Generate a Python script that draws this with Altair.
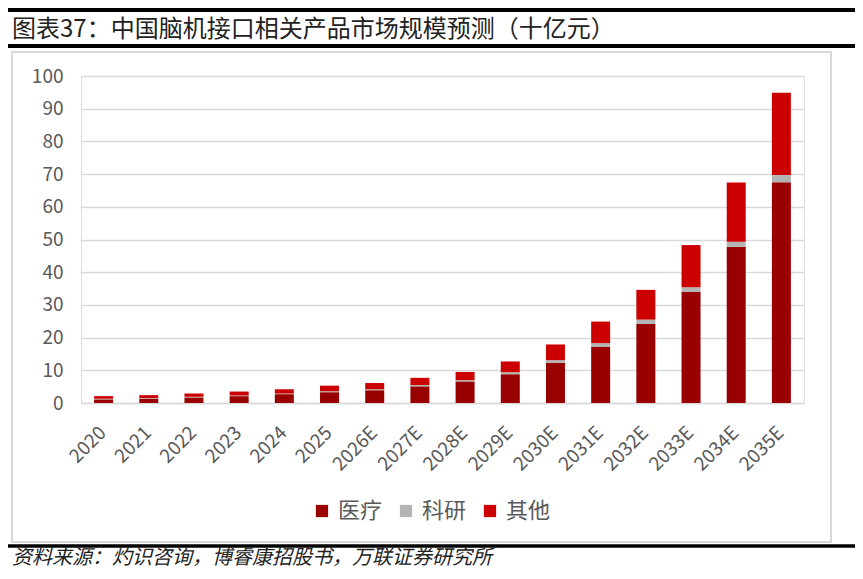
import altair as alt
import pandas as pd

years = ["2020", "2021", "2022", "2023", "2024", "2025", "2026E", "2027E",
         "2028E", "2029E", "2030E", "2031E", "2032E", "2033E", "2034E", "2035E"]
medical = [1.1, 1.3, 1.7, 2.1, 2.7, 3.3, 3.9, 5.1, 6.6, 8.8, 12.3, 17.2, 24.2, 34.0, 47.8, 67.5]
research = [0.2, 0.2, 0.2, 0.2, 0.2, 0.3, 0.3, 0.4, 0.4, 0.6, 0.8, 1.1, 1.3, 1.4, 1.5, 2.2]
other = [0.8, 0.9, 1.0, 1.2, 1.3, 1.7, 1.9, 2.2, 2.5, 3.3, 4.8, 6.6, 9.1, 12.9, 18.1, 25.2]
series = ["医疗", "科研", "其他"]
colors = ["#990000", "#B4B4B4", "#CC0000"]
title_text = "图表37：中国脑机接口相关产品市场规模预测（十亿元）"
source_text = "资料来源：灼识咨询，博睿康招股书，万联证券研究所"

rows = []
for i, y in enumerate(years):
    for k, (name, vals) in enumerate(zip(series, [medical, research, other])):
        rows.append({"year": y, "series": name, "value": vals[i], "order": k})
df = pd.DataFrame(rows)

FONT = "Noto Sans CJK SC"
one = pd.DataFrame({"a": [0]})

bars = alt.Chart(df).mark_bar(size=19).encode(
    x=alt.X("year:N", sort=years, title=None,
            scale=alt.Scale(paddingInner=0.58, paddingOuter=0.29),
            axis=alt.Axis(labelAngle=-45, labelFontSize=19, labelColor="#595959",
                          labelFont=FONT, ticks=False, domainColor="#D9D9D9",
                          domainWidth=1.5, labelPadding=20, labelOffset=-7, grid=False)),
    y=alt.Y("value:Q", title=None, stack="zero",
            scale=alt.Scale(domain=[0, 100], nice=False),
            axis=alt.Axis(values=list(range(0, 101, 10)), labelFontSize=19,
                          labelColor="#595959", labelFont=FONT, ticks=False,
                          domain=False, gridColor="#D9D9D9", gridWidth=1.5,
                          labelPadding=18)),
    color=alt.Color("series:N", sort=series,
                    scale=alt.Scale(domain=series, range=colors),
                    legend=alt.Legend(title=None, orient="none", direction="horizontal",
                                      legendX=230, legendY=424, symbolType="square",
                                      symbolSize=150, symbolStrokeWidth=0,
                                      labelFontSize=22, labelColor="#595959",
                                      labelFont=FONT, columnPadding=12, labelOffset=5,
                                      padding=0)),
    order=alt.Order("order:Q"),
)

box = alt.Chart(one).mark_rect(fill="transparent", stroke="#D9D9D9", strokeWidth=2).encode(
    x=alt.value(-69), x2=alt.value(750), y=alt.value(-24), y2=alt.value(466))

line_top = alt.Chart(one).mark_rule(color="black", strokeWidth=4).encode(
    x=alt.value(-73), x2=alt.value(774), y=alt.value(-66))
line_mid = alt.Chart(one).mark_rule(color="black", strokeWidth=4).encode(
    x=alt.value(-73), x2=alt.value(774), y=alt.value(-30))
line_bot = alt.Chart(one).mark_rule(color="black", strokeWidth=3.5).encode(
    x=alt.value(-73), x2=alt.value(774), y=alt.value(470))

title = alt.Chart(one).mark_text(text=title_text, align="left", baseline="alphabetic",
                                 fontSize=24, font=FONT, color="#222222").encode(
    x=alt.value(-69), y=alt.value(-39))
source = alt.Chart(one).mark_text(text=source_text, align="left", baseline="alphabetic",
                                  fontSize=20, font=FONT, fontStyle="italic",
                                  color="#222222").encode(
    x=alt.value(-69), y=alt.value(488))

chart = alt.layer(box, bars, line_top, line_mid, line_bot, title, source).properties(
    width=723, height=327,
    autosize=alt.AutoSizeParams(type="none"),
    padding={"left": 73, "top": 68, "right": 51, "bottom": 168},
).configure_view(stroke=None).configure(background="white")

chart.save("out.html", embed_options={"renderer": "svg", "actions": False})
